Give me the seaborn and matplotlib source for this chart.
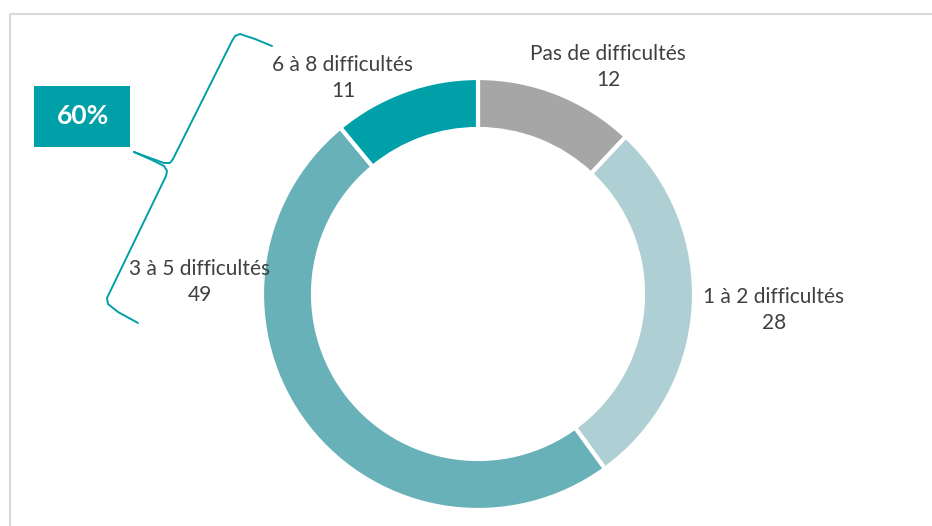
import matplotlib
matplotlib.use("Agg")
import matplotlib.pyplot as plt
import seaborn as sns
from matplotlib.patches import Rectangle

sns.set_theme(style="white")
plt.rcParams['font.family'] = ['Lato', 'DejaVu Sans']

# Data
categories = ["Pas de difficultés", "1 à 2 difficultés", "3 à 5 difficultés", "6 à 8 difficultés"]
values = [12, 28, 49, 11]
colors = sns.color_palette(["#A6A6A6", "#AECFD3", "#68B1B8", "#00A0A8"])
group_label = "60%"

W, H = 932, 526
TEXT = "#404040"
TEAL = "#00A0A8"

fig = plt.figure(figsize=(W / 100, H / 100), dpi=100)
ax = fig.add_axes([0, 0, 1, 1])


def Y(y):
    # pixel y measured from the top
    return H - y


# chart frame
ax.plot([10, W + 5], [Y(14), Y(14)], color="#D9D9D9", lw=1.5, solid_capstyle="butt")
ax.plot([10, 10], [Y(14), -5], color="#D9D9D9", lw=1.5, solid_capstyle="butt")

# donut
ax.pie(values, colors=colors, startangle=90, counterclock=False,
       center=(478, Y(294)), radius=216, frame=True,
       wedgeprops=dict(width=51, edgecolor="white", linewidth=3))
ax.set_xlim(0, W)
ax.set_ylim(0, H)
ax.set_aspect("equal")
ax.axis("off")

# labels
label_pos = [(608, 67), (774, 310), (200, 282), (343, 78)]
for cat, val, (x, y) in zip(categories, values, label_pos):
    ax.text(x, Y(y), f"{cat}\n{val}", ha="center", va="center",
            fontsize=15, color=TEXT, linespacing=1.4)

# group brace
upper = [(272, 46), (255, 39), (240, 34), (235, 36), (232, 41),
         (173, 159), (170, 163), (164, 163), (150, 158), (134, 152)]
lower = [(134, 152), (152, 160), (164, 166), (167, 171), (166, 176),
         (107, 298), (108, 304), (118, 312), (138, 323)]
for pts in (upper, lower):
    ax.plot([p[0] for p in pts], [Y(p[1]) for p in pts], color=TEAL, lw=1.4,
            solid_joinstyle="round", solid_capstyle="round")

# 60% box
ax.add_patch(Rectangle((34, Y(147)), 96, 61, facecolor=TEAL, edgecolor="none"))
ax.text(83, Y(115.5), group_label, ha="center", va="center", fontsize=19,
        fontweight="bold", color="white")

fig.savefig("out.png", dpi=100)
